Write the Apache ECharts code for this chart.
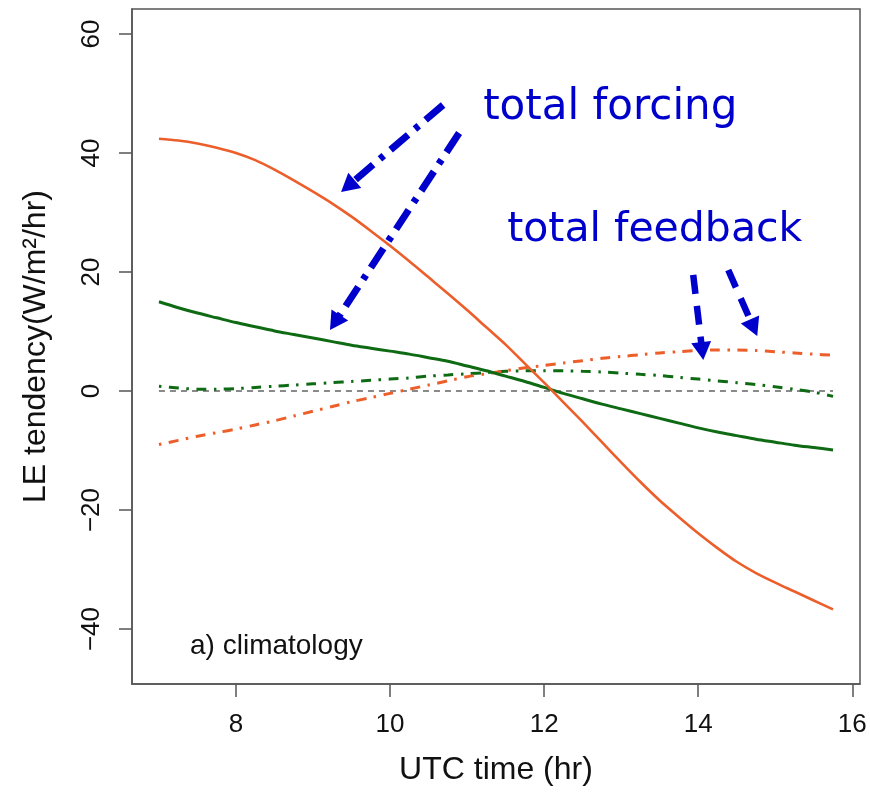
<!DOCTYPE html>
<html>
<head>
<meta charset="utf-8">
<script src="https://cdn.jsdelivr.net/npm/echarts@6/dist/echarts.min.js"></script>
<style>
html,body{margin:0;padding:0;background:#fff;}
#chart{width:870px;height:795px;}
</style>
</head>
<body>
<div id="chart"></div>
<script>
// ---- data ----
const hours = [7.00,7.25,7.50,7.75,8.00,8.25,8.50,8.75,9.00,9.25,9.50,9.75,10.00,10.25,10.50,10.75,11.00,11.25,11.50,11.75,12.00,12.25,12.50,12.75,13.00,13.25,13.50,13.75,14.00,14.25,14.50,14.75,15.00,15.25,15.50,15.75];
const forcingOrange = [42.4,42.1,41.6,40.9,40.0,38.8,37.2,35.4,33.5,31.5,29.3,26.9,24.4,21.8,19.1,16.4,13.6,10.7,7.8,4.6,1.4,-1.9,-5.2,-8.6,-12.0,-15.3,-18.4,-21.2,-23.9,-26.4,-28.7,-30.6,-32.2,-33.7,-35.2,-36.7];
const forcingGreen = [15.0,14.0,13.1,12.3,11.5,10.8,10.1,9.5,8.9,8.3,7.7,7.2,6.7,6.2,5.6,5.0,4.2,3.4,2.5,1.6,0.6,-0.4,-1.3,-2.2,-3.0,-3.8,-4.6,-5.4,-6.2,-6.9,-7.5,-8.1,-8.6,-9.1,-9.5,-9.9];
const feedbackOrange = [-9.0,-8.3,-7.6,-7.0,-6.4,-5.7,-5.0,-4.2,-3.4,-2.6,-1.8,-1.1,-0.4,0.3,1.0,1.7,2.4,2.9,3.4,3.9,4.3,4.7,5.1,5.5,5.8,6.1,6.4,6.6,6.8,6.9,6.9,6.8,6.6,6.4,6.2,6.0];
const feedbackGreen = [0.8,0.5,0.3,0.3,0.4,0.6,0.8,1.0,1.2,1.4,1.6,1.8,2.0,2.2,2.5,2.7,2.9,3.1,3.3,3.4,3.4,3.4,3.3,3.2,3.0,2.8,2.6,2.3,2.0,1.7,1.4,1.1,0.7,0.3,-0.2,-0.9];
const zeroLine = [[7.00,0],[15.75,0]];
const xTicks = [8,10,12,14,16];
const yTicks = [-40,-20,0,20,40,60];
const xName = 'UTC time (hr)';
const yName = 'LE tendency(W/m\u00B2/hr)';
const panelLabel = 'a) climatology';
const forcingText = 'total forcing';
const feedbackText = 'total feedback';
// annotation anchors in data coordinates
const forcingArrows = [[[10.688,48.07],[9.453,34.42]],[[10.896,43.36],[9.284,11.51]]];
const feedbackArrows = [[[13.935,19.50],[14.052,6.71]],[[14.390,20.34],[14.719,10.62]]];
const forcingTextPos = [11.208,47.56];
const feedbackTextPos = [11.52,27.06];
const panelLabelPos = [7.403,-42.86];

// ---- chart ----
const ORANGE = '#EC5E2A';
const GREEN = '#0F6A14';
const BLUE = '#0000CD';
const pair = (xs, ys) => xs.map((x,i)=>[x, ys[i]]);
const minus = v => String(v).replace('-', '\u2212');
const chart = echarts.init(document.getElementById('chart'), null, {renderer:'canvas'});

function arrowLines(list, type, width){
  return list.map(a => [
    {coord:a[0], lineStyle:{color:BLUE, width:width, type:type}},
    {coord:a[1]}
  ]);
}

const lineSeries = (name, data, color, width, type, z) => ({
  name, type:'line', data, showSymbol:false, symbol:'none', smooth:0.3,
  lineStyle:{color, width, type, cap:'butt'}, silent:true, z, animation:false
});

chart.setOption({
  animation:false,
  backgroundColor:'#fff',
  textStyle:{fontFamily:'Liberation Sans, Arial, sans-serif'},
  grid:{left:132, right:10, top:9, bottom:111, show:true, borderColor:'#555', borderWidth:1.5, containLabel:false, outerBoundsMode:'none'},
  xAxis:{
    type:'value', min:6.65, max:16.1,
    name:xName, nameLocation:'middle', nameGap:70,
    nameTextStyle:{fontSize:32, color:'#111', fontFamily:'Liberation Sans'},
    axisLine:{show:true, onZero:false, lineStyle:{color:'#555', width:1.5}},
    axisTick:{show:true, inside:false, length:13, customValues:xTicks, lineStyle:{color:'#555', width:1.5}},
    axisLabel:{customValues:xTicks, fontSize:26, color:'#111', margin:28, fontFamily:'Liberation Sans'},
    splitLine:{show:false}
  },
  yAxis:{
    type:'value', min:-49.24, max:64.2,
    name:yName, nameLocation:'middle', nameGap:80, nameRotate:90,
    nameTextStyle:{fontSize:32, color:'#111', fontFamily:'Liberation Sans'},
    axisLine:{show:true, onZero:false, lineStyle:{color:'#555', width:1.5}},
    axisTick:{show:true, inside:false, length:13, customValues:yTicks, lineStyle:{color:'#555', width:1.5}},
    axisLabel:{customValues:yTicks, fontSize:26, color:'#111', margin:27, rotate:90, fontFamily:'Liberation Sans', formatter:minus},
    splitLine:{show:false}
  },
  series:[
    Object.assign(lineSeries('zero', zeroLine, '#8a8a8a', 2, [6,5], 1), {
      smooth:false,
      markLine:{
        silent:true, animation:false, symbol:['none','triangle'], symbolSize:[20,18],
        label:{show:false}, emphasis:{disabled:true},
        data: arrowLines(forcingArrows, [23,9,5,9], 7).concat(arrowLines(feedbackArrows, [19,12], 6.5))
      }
    }),
    lineSeries('feedback green', pair(hours, feedbackGreen), GREEN, 3, [2.5,7.5,10,7.5], 2),
    lineSeries('feedback orange', pair(hours, feedbackOrange), ORANGE, 3, [2.5,7.5,10,7.5], 3),
    lineSeries('forcing green', pair(hours, forcingGreen), GREEN, 3, 'solid', 4),
    lineSeries('forcing orange', pair(hours, forcingOrange), ORANGE, 2.6, 'solid', 5)
  ]
});

const toPx = p => chart.convertToPixel({gridIndex:0}, p);
const pf = toPx(forcingTextPos), pb = toPx(feedbackTextPos), pl = toPx(panelLabelPos);
chart.setOption({
  graphic:[
    {type:'text', x:pf[0], y:pf[1], silent:true, z:10, style:{text:forcingText, fill:BLUE, font:'42px "DejaVu Sans"', align:'left', verticalAlign:'middle'}},
    {type:'text', x:pb[0], y:pb[1], silent:true, z:10, style:{text:feedbackText, fill:BLUE, font:'41px "DejaVu Sans"', align:'left', verticalAlign:'middle'}},
    {type:'text', x:pl[0], y:pl[1], silent:true, z:10, style:{text:panelLabel, fill:'#111', font:'28px "Liberation Sans"', align:'left', verticalAlign:'middle'}}
  ]
});
</script>
</body>
</html>
